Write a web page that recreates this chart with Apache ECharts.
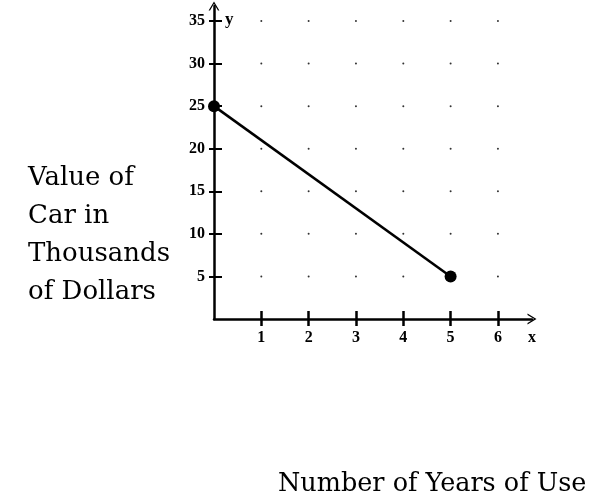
<!DOCTYPE html>
<html lang="en">
<head>
    <meta charset="UTF-8">
    <title>Value of Car</title>
    <script src="https://cdn.jsdelivr.net/npm/echarts@6/dist/echarts.min.js"></script>
    <style>
        html, body { margin: 0; padding: 0; background: #fff; }
        #ec { width: 601px; height: 503px; }
    </style>
</head>
<body>
<div id="ec"></div>
<script>
    // line: value of the car (thousands) against years of use
    var years = [0, 5];
    var values = [25, 5];
    // tick labels / dot grid
    var xTicks = [1, 2, 3, 4, 5, 6];
    var yTicks = [5, 10, 15, 20, 25, 30, 35];

    var dots = [];
    for (var i = 0; i < xTicks.length; i++) {
        for (var j = 0; j < yTicks.length; j++) {
            dots.push([xTicks[i], yTicks[j]]);
        }
    }
    var linePts = years.map(function (x, k) { return [x, values[k]]; });

    var arrow = 'path://M0,10 L6,0 L12,10 L10.4,10 L6,2.6 L1.6,10 Z';
    var tickFont = {color: '#000', fontFamily: 'Liberation Serif', fontWeight: 'bold', fontSize: 16};

    var myChart = echarts.init(document.getElementById('ec'));
    myChart.setOption({
        animation: false,
        title: [
            {
                text: 'Value of\nCar in\nThousands\nof Dollars',
                left: 28,
                top: 159,
                padding: 0,
                textStyle: {fontFamily: 'DejaVu Serif', fontWeight: 'normal', fontSize: 26, lineHeight: 38, color: '#000'}
            },
            {
                text: 'Number of Years of Use',
                left: 278,
                top: 471,
                padding: 0,
                textStyle: {fontFamily: 'DejaVu Serif', fontWeight: 'normal', fontSize: 25.5, color: '#000'}
            }
        ],
        grid: {left: 214, right: 69, top: 6, bottom: 184},
        xAxis: [
            {
                type: 'value', min: 0, max: 6.72, interval: 1,
                name: 'x', nameLocation: 'end', nameGap: 0,
                nameTextStyle: Object.assign({align: 'center', verticalAlign: 'top', padding: [11, 0, 0, 0]}, tickFont),
                splitLine: {show: false},
                axisLine: {lineStyle: {color: '#000', width: 2.5}, symbol: ['none', arrow], symbolSize: [14, 9]},
                axisTick: {length: 7, lineStyle: {color: '#000', width: 2.5}, customValues: xTicks},
                axisLabel: Object.assign({margin: 11, customValues: xTicks}, tickFont)
            },
            {
                type: 'value', min: 0, max: 6.72, interval: 1, position: 'bottom',
                splitLine: {show: false},
                axisLine: {show: false},
                axisTick: {inside: true, length: 8, lineStyle: {color: '#000', width: 2.5}, customValues: xTicks},
                axisLabel: {show: false}
            }
        ],
        yAxis: [
            {
                type: 'value', min: 0, max: 36.76, interval: 5,
                name: 'y', nameLocation: 'end', nameGap: -22,
                nameTextStyle: {color: '#000', fontFamily: 'Liberation Serif', fontWeight: 'bold', fontSize: 17,
                    align: 'left', verticalAlign: 'bottom', padding: [0, 0, 0, 11]},
                splitLine: {show: false},
                axisLine: {lineStyle: {color: '#000', width: 2.5}, symbol: ['none', arrow], symbolSize: [14, 9]},
                axisTick: {length: 5, lineStyle: {color: '#000', width: 2}, customValues: yTicks},
                axisLabel: Object.assign({margin: 9, customValues: yTicks}, tickFont)
            },
            {
                type: 'value', min: 0, max: 36.76, interval: 5, position: 'left',
                splitLine: {show: false},
                axisLine: {show: false},
                axisTick: {inside: true, length: 8, lineStyle: {color: '#000', width: 2}, customValues: yTicks},
                axisLabel: {show: false}
            }
        ],
        series: [
            {
                type: 'scatter',
                data: dots,
                symbolSize: 2,
                itemStyle: {color: '#000'},
                silent: true,
                z: 1
            },
            {
                type: 'line',
                data: linePts,
                symbol: 'circle',
                symbolSize: 12,
                showAllSymbol: true,
                lineStyle: {color: '#000', width: 2.5},
                itemStyle: {color: '#000'},
                z: 3
            }
        ]
    });
</script>
</body>
</html>
